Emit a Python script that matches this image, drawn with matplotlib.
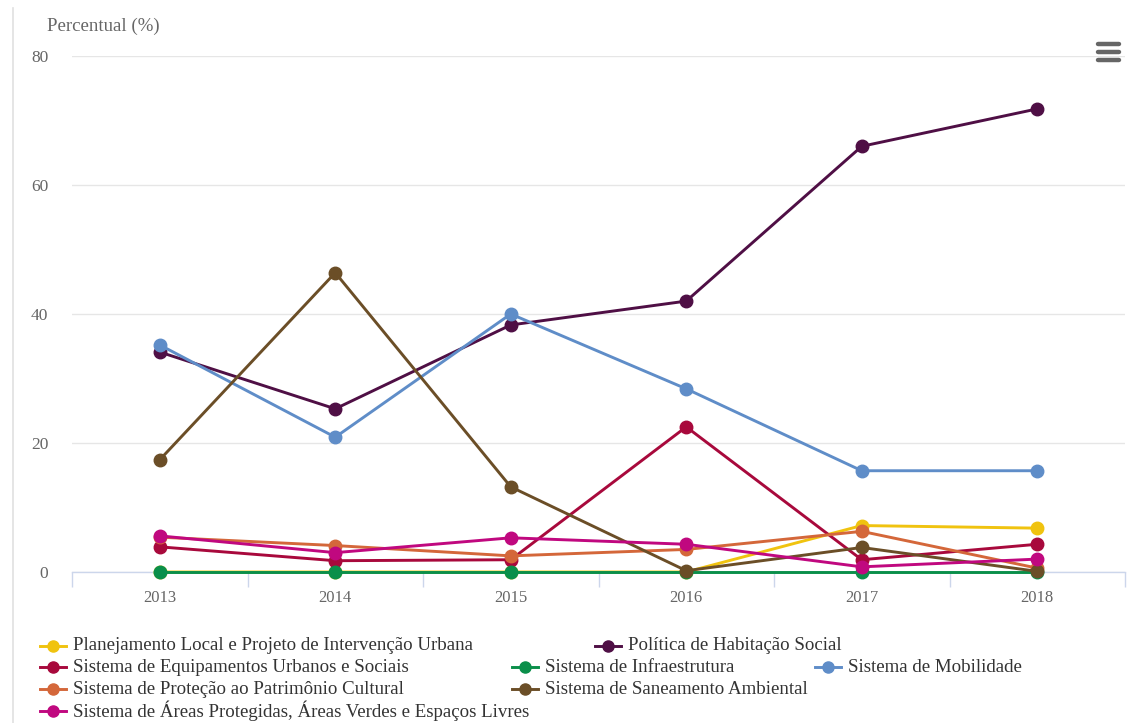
import matplotlib
matplotlib.use("Agg")
import matplotlib.pyplot as plt
from matplotlib.lines import Line2D
import numpy as np

years = ["2013", "2014", "2015", "2016", "2017", "2018"]
series_names = [
    "Planejamento Local e Projeto de Intervenção Urbana",
    "Política de Habitação Social",
    "Sistema de Equipamentos Urbanos e Sociais",
    "Sistema de Infraestrutura",
    "Sistema de Mobilidade",
    "Sistema de Proteção ao Patrimônio Cultural",
    "Sistema de Saneamento Ambiental",
    "Sistema de Áreas Protegidas, Áreas Verdes e Espaços Livres",
]
planejamento = [0.0, 0.0, 0.0, 0.0, 7.2, 6.8]
habitacao = [34.1, 25.3, 38.3, 42.0, 66.0, 71.8]
equipamentos = [3.9, 1.75, 1.9, 22.5, 1.9, 4.3]
infraestrutura = [0.0, 0.0, 0.0, 0.0, 0.0, 0.0]
mobilidade = [35.2, 20.9, 40.0, 28.4, 15.7, 15.7]
patrimonio = [5.4, 4.1, 2.5, 3.5, 6.3, 0.6]
saneamento = [17.4, 46.4, 13.2, 0.2, 3.8, 0.1]
areas = [5.6, 3.0, 5.3, 4.3, 0.8, 2.0]

colors = ["#F0C30F", "#4F0F45", "#A8093C", "#0A8F4A", "#5F8DC8",
          "#D4673A", "#6B4E27", "#C0087F"]
data = [planejamento, habitacao, equipamentos, infraestrutura, mobilidade,
        patrimonio, saneamento, areas]

W, H = 1135, 723
fig = plt.figure(figsize=(W / 100, H / 100), dpi=100)
font = "Liberation Serif"
txtcol = "#666666"

ax = fig.add_axes([72 / W, 1 - 572 / H, (1125 - 72) / W, (572 - 56) / H])
x = np.arange(len(years))
for i, (vals, c) in enumerate(zip(data, colors)):
    ax.plot(x, vals, color=c, lw=2.1, marker="o", ms=9, zorder=3 + i,
            solid_capstyle="round", clip_on=False)

ax.set_xlim(-0.5, len(years) - 0.5)
ax.set_ylim(0, 80)
ax.set_yticks([0, 20, 40, 60, 80])
ax.yaxis.grid(True, color="#e6e6e6", lw=1)
ax.set_axisbelow(True)
for s in ["top", "right", "left"]:
    ax.spines[s].set_visible(False)
ax.spines["bottom"].set_color("#ccd6eb")
ax.spines["bottom"].set_linewidth(1)
ax.tick_params(axis="y", length=0, pad=17, labelsize=12.5, labelcolor=txtcol)
for lab in ax.get_yticklabels():
    lab.set_fontfamily(font)

ax.set_xticks(np.arange(-0.5, len(years)), minor=False)
ax.set_xticklabels([])
ax.tick_params(axis="x", which="major", length=11, color="#ccd6eb", width=1)
ax.set_xticks(x, minor=True)
ax.set_xticklabels(years, minor=True, fontfamily=font, fontsize=12, color=txtcol)
ax.tick_params(axis="x", which="minor", length=0, pad=13)

fig.text(47 / W, 1 - 26 / H, "Percentual (%)", fontfamily=font, fontsize=13.6,
         color=txtcol, va="center", ha="left")

# left container border
fig.add_artist(Line2D([12.5 / W, 12.5 / W], [0, 1 - 8 / H], color="#e0e0e0", lw=1.2))

# hamburger menu
for yy in [44, 52, 60]:
    fig.add_artist(Line2D([1098 / W, 1119 / W], [1 - yy / H] * 2, color="#666666",
                          lw=3.2, solid_capstyle="round"))

# legend (flow layout)
legend_pos = [(40, 646), (595, 646), (40, 667), (512, 667), (815, 667),
              (40, 689), (512, 689), (40, 711)]
for (lx, ly), name, c in zip(legend_pos, series_names, colors):
    fig.add_artist(Line2D([lx / W, (lx + 26) / W], [1 - ly / H] * 2, color=c, lw=2.1))
    fig.add_artist(Line2D([(lx + 13) / W], [1 - ly / H], color=c, marker="o", ms=8,
                          lw=0))
    fig.text((lx + 33) / W, 1 - ly / H, name, fontfamily=font, fontsize=13.6,
             color="#333333", va="center", ha="left")

fig.savefig("out.png", dpi=100, facecolor="white")
